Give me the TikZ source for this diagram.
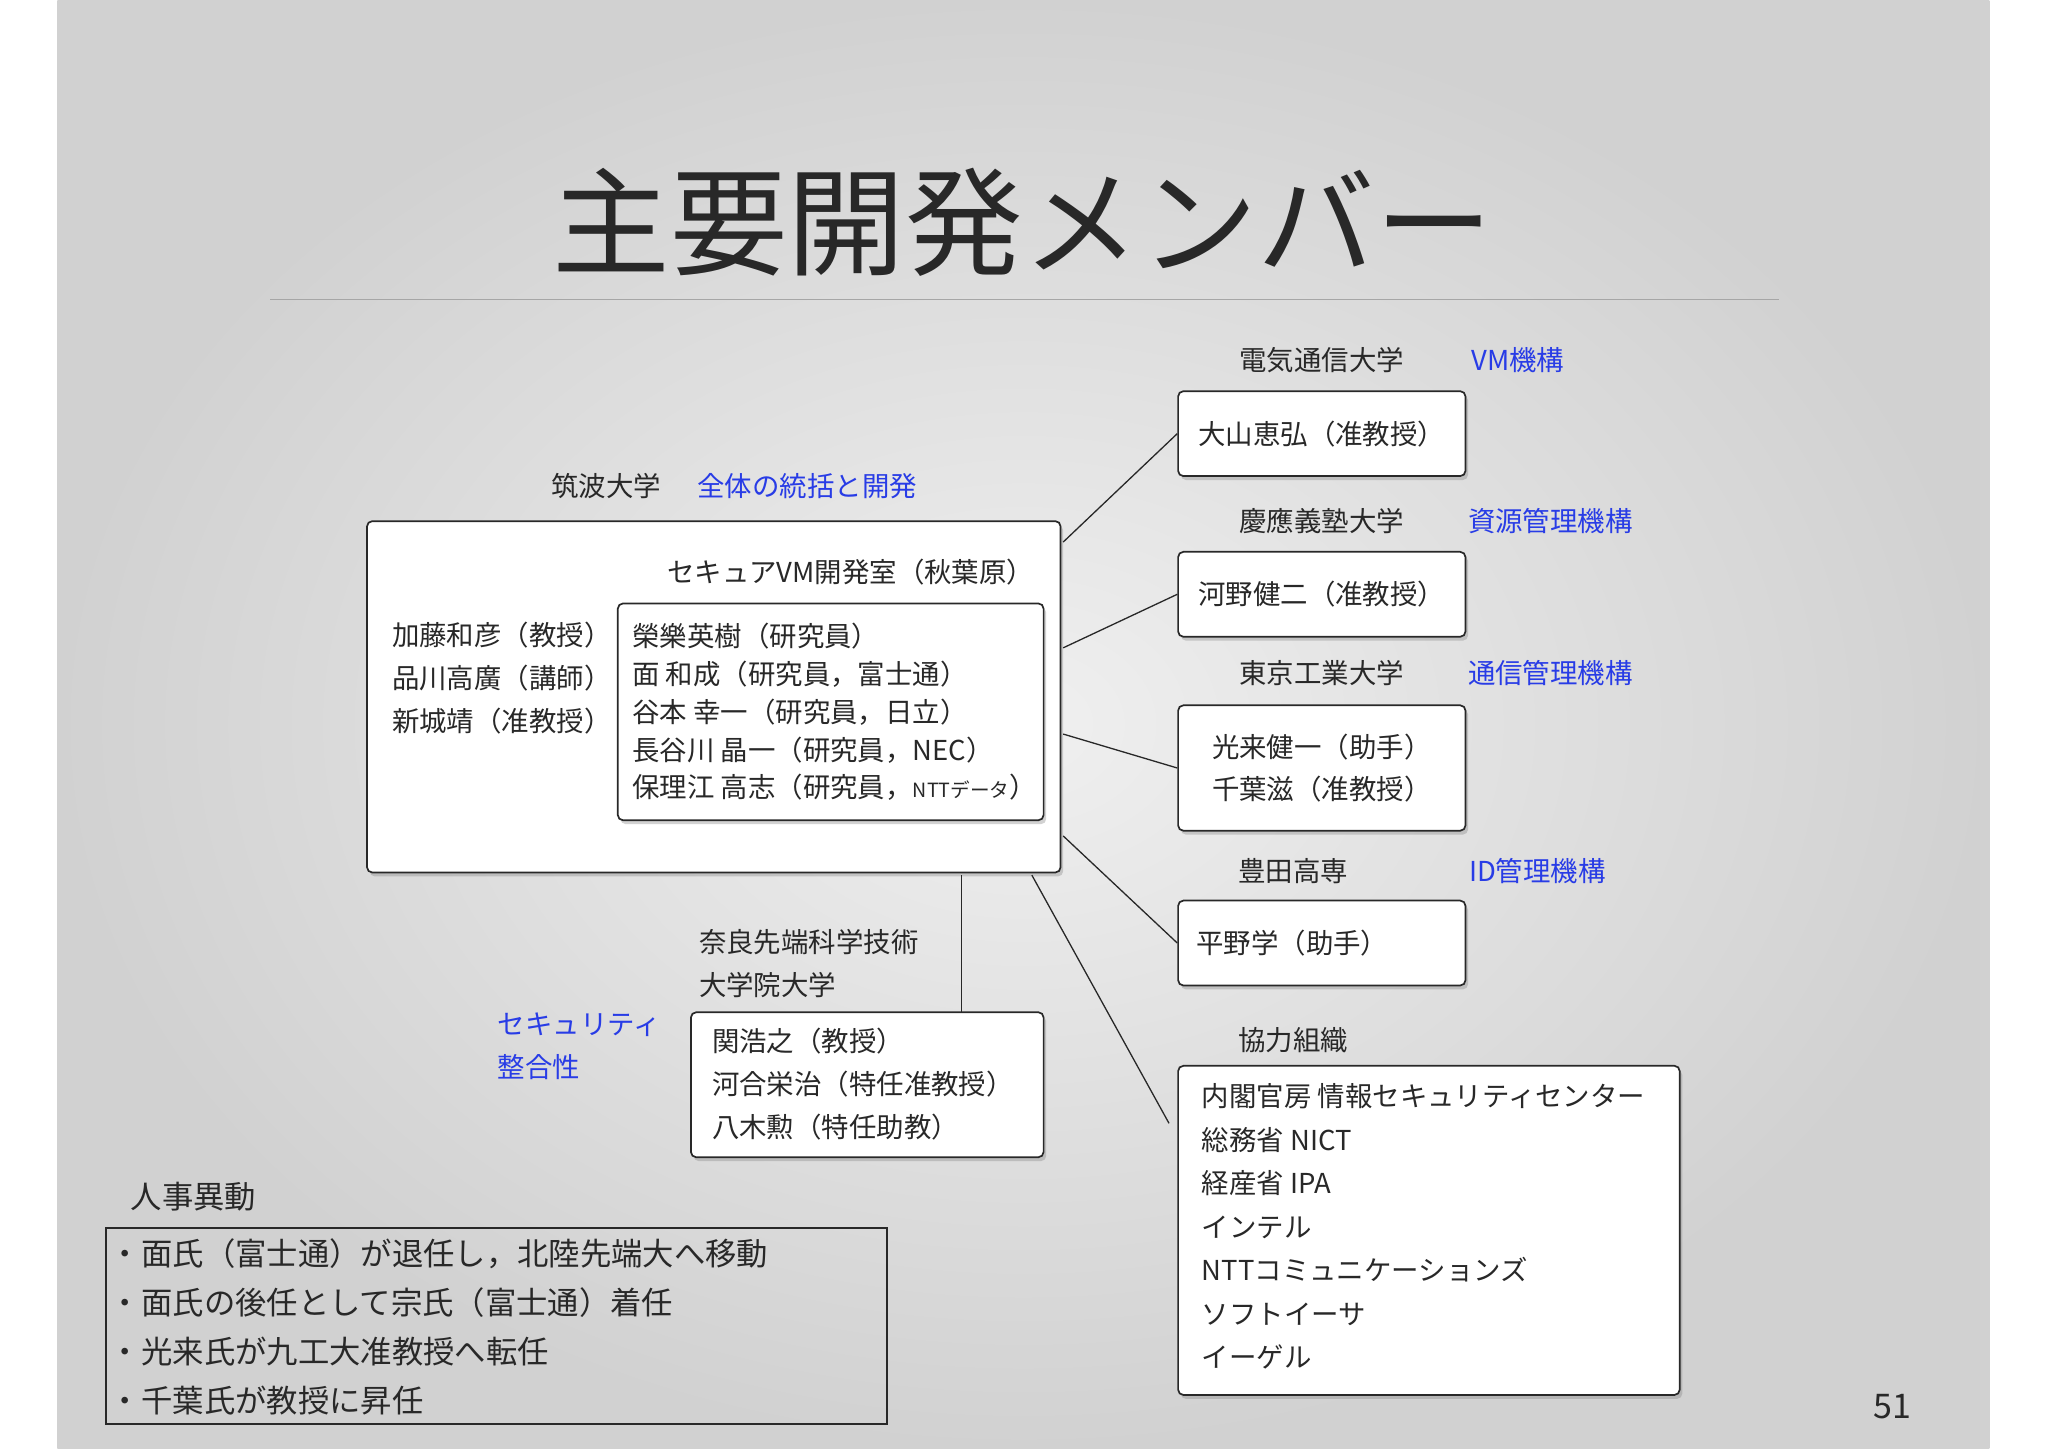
\documentclass[tikz,border=0pt]{standalone}
\usepackage{fontspec}
\setmainfont{Noto Sans CJK JP}
\usetikzlibrary{shadows}
\definecolor{bluet}{RGB}{40,60,230}
\definecolor{ink}{RGB}{40,40,40}
\tikzset{
 box/.style={draw=ink,line width=1.3pt,fill=white,rounded corners=4pt,drop shadow={shadow xshift=2pt,shadow yshift=-3pt,opacity=0.35}},
 t/.style={font=\fontsize{21}{24}\selectfont,text=ink,inner sep=0pt},
 bt/.style={t,text=bluet},
 ln/.style={draw=ink,line width=1pt},
}
\begin{document}
\begin{tikzpicture}[x=1pt,y=-1pt]
\useasboundingbox (0,0) rectangle (1568,1109);
\fill[white] (0,0) rectangle (1568,1109);
\shade[inner color=white!94!black,outer color=white!82!black] (44,0) rectangle (1523,1109);
\node[t,font=\fontsize{90}{96}\selectfont] (title) at (783,170) {主要開発メンバー};
\draw[black!35,line width=0.8pt] (207,229) -- (1362,229);
% Tsukuba
\node[t] (tsuk) at (464,372) {筑波大学};
\node[bt] (tsukr) at (618,372) {全体の統括と開発};
\path[box] (281,399) rectangle (812,668);
\coordinate (big) at (546,533);
\node[t,anchor=east] (lab) at (792,438) {セキュアVM開発室（秋葉原）};
\path[box,drop shadow={opacity=0}] (473,462) rectangle (799,628);
\node[t,anchor=west,align=left,font=\fontsize{21}{29}\selectfont] (inner) at (484,545) {榮樂英樹（研究員）\\面 和成（研究員，富士通）\\谷本 幸一（研究員，日立）\\長谷川 晶一（研究員，NEC）\\保理江 高志（研究員，{\fontsize{15}{18}\selectfont NTTデータ}）};
\node[t,anchor=west,align=left,font=\fontsize{21}{33}\selectfont] (left) at (300,519) {加藤和彦（教授）\\品川高廣（講師）\\新城靖（准教授）};
% right column
\node[t] (h1) at (1012,276) {電気通信大学}; \node[bt] (h1b) at (1162,276) {VM機構};
\node[box,minimum width=220pt,minimum height=65pt,t,inner sep=0pt] (b1) at (1012,332) {大山恵弘（准教授）};
\node[t] (h2) at (1012,399) {慶應義塾大学}; \node[bt] (h2b) at (1187,399) {資源管理機構};
\node[box,minimum width=220pt,minimum height=65pt,t] (b2) at (1012,455) {河野健二（准教授）};
\node[t] (h3) at (1012,515) {東京工業大学}; \node[bt] (h3b) at (1187,515) {通信管理機構};
\node[box,minimum width=220pt,minimum height=96pt,t,align=left,font=\fontsize{21}{32}\selectfont] (b3) at (1012,588) {光来健一（助手）\\千葉滋（准教授）};
\node[t] (h4) at (990,667) {豊田高専}; \node[bt] (h4b) at (1177,667) {ID管理機構};
\node[box,minimum width=220pt,minimum height=65pt,t] (b4) at (1012,722) {\hspace*{-45pt}平野学（助手）};
\node[t] (h5) at (990,796) {協力組織};
\path[box] (902,816) rectangle (1286,1068);
\coordinate (b5) at (1094,942);
\node[t,anchor=west,align=left,font=\fontsize{21}{33.3}\selectfont] (b5t) at (920,939) {内閣官房 情報セキュリティセンター\\総務省 NICT\\経産省 IPA\\インテル\\NTTコミュニケーションズ\\ソフトイーサ\\イーゲル};
% Nara
\node[t,anchor=west,align=left,font=\fontsize{21}{33}\selectfont] (h6) at (535,738) {奈良先端科学技術\\大学院大学};
\node[bt,anchor=west,align=left,font=\fontsize{21}{33}\selectfont] (h6b) at (381,801) {セキュリティ\\整合性};
\path[box] (529,775) rectangle (799,886);
\node[t,anchor=west,align=left,font=\fontsize{21}{33}\selectfont] (b6) at (545,830) {関浩之（教授）\\河合栄治（特任准教授）\\八木勲（特任助教）};
% connectors
\coordinate (c1) at (814,415); \coordinate (c2) at (814,496); \coordinate (c3) at (814,562);
\coordinate (c4) at (814,640); \coordinate (c5) at (790,670); \coordinate (c6) at (736,670);
\coordinate (e5) at (895,860); \coordinate (e6) at (736,775);
\draw[ln] (c1) -- (b1.west); \draw[ln] (c2) -- (b2.west); \draw[ln] (c3) -- (b3.west);
\draw[ln] (c4) -- (b4.west); \draw[ln] (c5) -- (e5); \draw[ln] (c6) -- (e6);
% bottom
\node[t,anchor=west,font=\fontsize{24}{28}\selectfont] (jj) at (100,916) {人事異動};
\draw[ink,line width=1.3pt] (81,940) rectangle (679,1090);
\node[t,anchor=west,align=left,font=\fontsize{24}{37.6}\selectfont] (jt) at (84,1016) {・面氏（富士通）が退任し，北陸先端大へ移動\\・面氏の後任として宗氏（富士通）着任\\・光来氏が九工大准教授へ転任\\・千葉氏が教授に昇任};
\node[t,font=\fontsize{26}{30}\selectfont] (pg) at (1449,1077) {51};
\end{tikzpicture}
\end{document}
